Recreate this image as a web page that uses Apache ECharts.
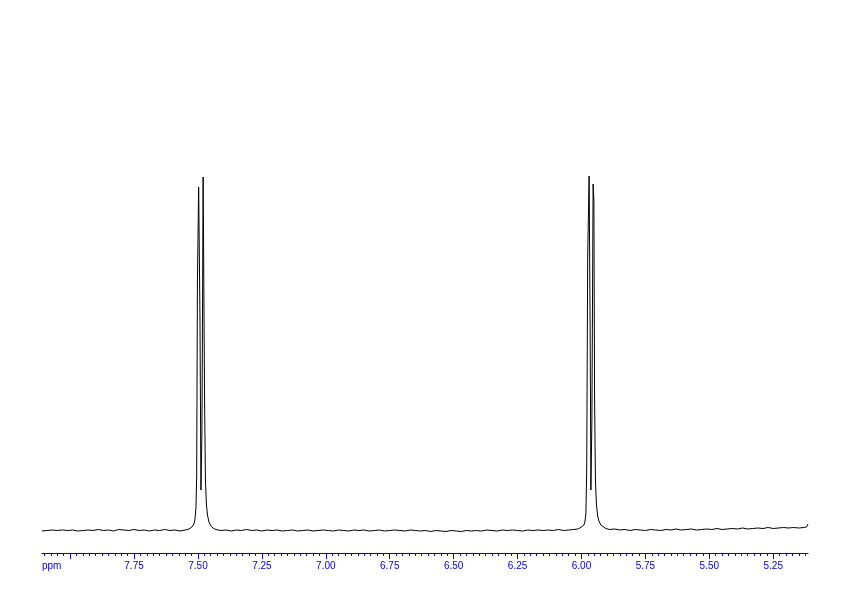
<!DOCTYPE html>
<html>
<head>
<meta charset="utf-8">
<script src="https://cdn.jsdelivr.net/npm/echarts@6/dist/echarts.min.js"></script>
<style>html,body{margin:0;padding:0;background:#fff}#c{width:842px;height:596px}</style>
</head>
<body>
<div id="c"></div>
<script>
// Axis range (ppm) and tick labels
const ppmMax = 8.11;
const ppmMin = 5.114;
const majorTicks = [8.00, 7.75, 7.50, 7.25, 7.00, 6.75, 6.50, 6.25, 6.00, 5.75, 5.50, 5.25];
const labelTicks = [7.75, 7.50, 7.25, 7.00, 6.75, 6.50, 6.25, 6.00, 5.75, 5.50, 5.25];
const unitLabel = 'ppm';

// Spectrum segments: [ppm, intensity]
const baselineA = [
  [8.11,22],[8.09,22.5],[8.07,23],[8.05,22.5],[8.03,23],[8.01,22.5],[7.99,23],[7.97,22],
  [7.95,22.5],[7.93,23],[7.91,22.5],[7.89,23.5],[7.87,22.5],[7.85,23],[7.83,22],[7.81,23.5],
  [7.79,23],[7.77,22.5],[7.75,23.5],[7.73,22.5],[7.71,23],[7.69,22],[7.67,23],[7.65,22.5],
  [7.63,23.5],[7.61,22.5],[7.59,23],[7.57,22],[7.55,23],[7.535,24]
];
const peakA = [
  [7.5313,25],[7.5235,26],[7.5196,27],[7.5156,29],[7.5117,34],[7.5078,45],[7.5051,76],
  [7.5020,273],[7.4973,366],[7.4922,236],[7.4883,63],[7.4844,123],[7.4797,376],[7.4765,375],
  [7.4742,156],[7.4707,73],[7.4668,48],[7.4628,38],[7.4570,31],[7.4492,27],[7.4413,25]
];
const baselineB = [
  [7.43,23.5],[7.41,22.5],[7.39,23],[7.37,22],[7.35,23],[7.33,22.5],[7.31,23.5],[7.29,22.5],
  [7.27,23],[7.25,22],[7.23,23],[7.21,22.5],[7.19,23],[7.17,22],[7.15,22.5],[7.13,23],
  [7.11,22],[7.09,22.5],[7.07,23],[7.05,22],[7.03,22.5],[7.01,23],[6.99,22.5],[6.97,22],
  [6.95,23],[6.93,22.5],[6.91,22],[6.89,23],[6.87,22.5],[6.85,23],[6.83,22],[6.81,22.5],
  [6.79,23],[6.77,22],[6.75,22.5],[6.73,23],[6.71,22.5],[6.69,22],[6.67,23],[6.65,22.5],
  [6.63,22],[6.61,22.5],[6.59,21.5],[6.57,22.5],[6.55,22],[6.53,21.5],[6.51,22.5],[6.49,22],
  [6.47,21.5],[6.45,22.5],[6.43,22],[6.41,22.5],[6.39,22],[6.37,23],[6.35,22.5],[6.33,22],
  [6.31,23],[6.29,22.5],[6.27,23],[6.25,22.5],[6.23,22],[6.21,23],[6.19,22.5],[6.17,23],
  [6.15,22.5],[6.13,23],[6.11,22.5],[6.09,23.5],[6.07,22.5],[6.05,23],[6.03,23.5],[6.015,24]
];
const peakB = [
  [6.0061,25],[5.9983,26],[5.9905,28],[5.9866,31],[5.9827,39],[5.9795,83],[5.9756,298],
  [5.9701,377],[5.9662,228],[5.9631,63],[5.9592,133],[5.9545,369],[5.9514,353],[5.9487,153],
  [5.9452,71],[5.9413,48],[5.9366,37],[5.9319,32],[5.9241,28],[5.9163,26]
];
const baselineC = [
  [5.905,24.5],[5.89,23.5],[5.87,24],[5.85,23],[5.83,23.5],[5.81,22.5],[5.79,23.5],[5.77,23],
  [5.75,22.5],[5.73,23.5],[5.71,23],[5.69,22.5],[5.67,23.5],[5.65,23],[5.63,24],[5.61,23],
  [5.59,23.5],[5.57,24],[5.55,23],[5.53,23.5],[5.51,24],[5.49,23.5],[5.47,24.5],[5.45,23.5],
  [5.43,24],[5.41,24.5],[5.39,24],[5.37,25],[5.35,24],[5.33,24.5],[5.31,25],[5.29,24.5],
  [5.27,25.5],[5.25,24.5],[5.23,25],[5.21,25.5],[5.19,25],[5.17,25.5],[5.15,25],[5.13,25.5],
  [5.12,26],[5.114,29]
];

const spectrum = [].concat(baselineA, peakA, baselineB, peakB, baselineC);

const minorTicks = [];
for (let i = 0; i <= 120; i++) {
  const v = +(5.125 + i * 0.025).toFixed(3);
  if (v <= ppmMax) minorTicks.push(v);
}

const blue = '#0000ee';
const chart = echarts.init(document.getElementById('c'), null, {renderer: 'canvas'});
chart.setOption({
  animation: false,
  backgroundColor: '#ffffff',
  grid: {left: 42, right: 34, top: 53, bottom: 43, containLabel: false, outerBoundsMode: 'none'},
  xAxis: [
    {
      type: 'value', position: 'bottom', inverse: true, min: ppmMin, max: ppmMax,
      axisLine: {show: true, lineStyle: {color: blue, width: 1}},
      axisTick: {show: true, customValues: minorTicks, length: 3, lineStyle: {color: blue, width: 1}},
      axisLabel: {show: false},
      splitLine: {show: false}
    },
    {
      type: 'value', position: 'bottom', offset: 0, inverse: true, min: ppmMin, max: ppmMax,
      axisLine: {show: false},
      axisTick: {show: true, customValues: majorTicks, length: 6, lineStyle: {color: blue, width: 1}},
      axisLabel: {
        show: true, customValues: labelTicks, margin: 8, color: blue,
        fontFamily: 'Liberation Sans', fontSize: 10,
        formatter: v => v.toFixed(2)
      },
      splitLine: {show: false}
    }
  ],
  yAxis: {type: 'value', min: 0, max: 500, show: false, splitLine: {show: false}},
  graphic: [{
    type: 'text', left: 42, top: 561,
    style: {text: unitLabel, fill: blue, font: '10px "Liberation Sans"'}
  }],
  series: [{
    type: 'line', xAxisIndex: 0, data: spectrum, showSymbol: false, symbol: 'none',
    lineStyle: {color: '#000000', width: 1}, smooth: false, silent: true
  }]
});
</script>
</body>
</html>
